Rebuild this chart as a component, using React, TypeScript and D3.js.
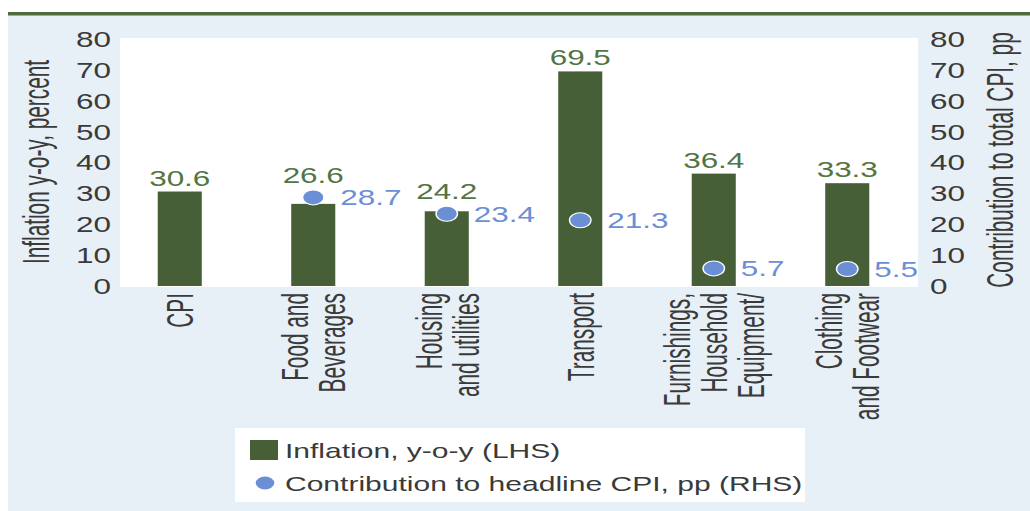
import * as d3 from "d3";

// chart values
const categories = [
  "CPI",
  "Food and\nBeverages",
  "Housing\nand utilities",
  "Transport",
  "Furnishings,\nHousehold\nEquipment/",
  "Clothing\nand Footwear",
];
const inflation = [30.6, 26.6, 24.2, 69.5, 36.4, 33.3];
const contribution: (number | null)[] = [null, 28.7, 23.4, 21.3, 5.7, 5.5];
const yTicks = [0, 10, 20, 30, 40, 50, 60, 70, 80];
const legendLabels = ["Inflation, y-o-y (LHS)", "Contribution to headline CPI, pp (RHS)"];

const W = 1030;
const H = 511;
// the reference is stretched horizontally, so draw in a narrower box and let the viewBox widen it
const S = 1.43;
const px = (x: number) => x / S;

const barColor = "#465f37";
const labelGreen = "#527543";
const dotColor = "#6b8fd4";
const textColor = "#3a3a3a";
const bgColor = "#e8f0f7";
const font = "'Liberation Sans', Arial, sans-serif";
const dotR = 7.5;

export default function App() {
  const x = d3
    .scaleBand<string>()
    .domain(categories)
    .range([px(113), px(914)])
    .paddingInner(0.67)
    .paddingOuter(0.335);

  const y = d3.scaleLinear().domain([0, 80]).range([286, 39]);

  const rotated = (cx: number, cy: number) =>
    `translate(${cx},${cy}) rotate(-90) scale(0.8,1)`;

  // bar label sits above the bar, or above the dot when the dot sits on the bar top
  const labelY = (i: number) => {
    const top = y(inflation[i]);
    const v = contribution[i];
    if (v != null && Math.abs(y(v) - top) < 20) return Math.min(top, y(v) - dotR) - 7;
    return top - 6;
  };

  return (
    <div style={{ position: "absolute", left: 0, top: 0 }}>
      <svg
        width={W}
        height={H}
        viewBox={`0 0 ${W / S} ${H}`}
        preserveAspectRatio="none"
        style={{ display: "block", fontFamily: font }}
      >
        <rect x={0} y={0} width={W / S} height={H} fill="#fff" />
        <rect x={px(8)} y={15} width={W / S - px(8)} height={H - 15} fill={bgColor} />
        <rect x={px(8)} y={12} width={W / S - px(8)} height={3.5} fill="#4e6b3e" />

        {/* plot area */}
        <rect x={px(120)} y={38} width={px(918) - px(120)} height={249} fill="#fff" />

        {/* left axis */}
        {yTicks.map((t) => (
          <text
            key={"l" + t}
            x={px(111)}
            y={y(t)}
            dy="0.36em"
            textAnchor="end"
            fontSize={22}
            fill={textColor}
          >
            {t}
          </text>
        ))}
        {/* right axis */}
        {yTicks.map((t) => (
          <text
            key={"r" + t}
            x={px(930)}
            y={y(t)}
            dy="0.36em"
            textAnchor="start"
            fontSize={22}
            fill={textColor}
          >
            {t}
          </text>
        ))}

        <text
          transform={rotated(px(36), 162)}
          dy="0.36em"
          textAnchor="middle"
          fontSize={26}
          fill={textColor}
        >
          Inflation y-o-y, percent
        </text>
        <text
          transform={rotated(px(1000), 160)}
          dy="0.36em"
          textAnchor="middle"
          fontSize={26}
          fill={textColor}
        >
          Contribution to total CPI, pp
        </text>

        {/* bars */}
        {categories.map((c, i) => (
          <rect
            key={"b" + c}
            x={x(c)!}
            y={y(inflation[i])}
            width={x.bandwidth()}
            height={y(0) - y(inflation[i])}
            fill={barColor}
          />
        ))}
        {categories.map((c, i) => (
          <text
            key={"bl" + c}
            x={x(c)! + x.bandwidth() / 2}
            y={labelY(i)}
            textAnchor="middle"
            fontSize={22}
            fill={labelGreen}
          >
            {inflation[i].toFixed(1)}
          </text>
        ))}

        {/* contribution dots */}
        {categories.map((c, i) => {
          const v = contribution[i];
          if (v == null) return null;
          const cx = x(c)! + x.bandwidth() / 2;
          return (
            <g key={"d" + c}>
              <circle cx={cx} cy={y(v)} r={dotR} fill={dotColor} stroke="#fff" strokeWidth={1} />
              <text
                x={cx + px(27)}
                y={y(v)}
                dy="0.36em"
                fontSize={22}
                fill={dotColor}
              >
                {v.toFixed(1)}
              </text>
            </g>
          );
        })}

        {/* category labels */}
        {categories.map((c) => {
          const lines = c.split("\n");
          const cx = x(c)! + x.bandwidth() / 2;
          const step = px(37);
          return (
            <g key={"c" + c}>
              {lines.map((ln, j) => (
                <text
                  key={j}
                  transform={rotated(cx + (j - (lines.length - 1) / 2) * step, 293)}
                  dy="0.36em"
                  textAnchor="end"
                  fontSize={26}
                  fill={textColor}
                >
                  {ln}
                </text>
              ))}
            </g>
          );
        })}

        {/* legend */}
        <rect x={px(235)} y={428} width={px(805) - px(235)} height={74} fill="#fff" />
        <rect x={px(250)} y={440} width={px(28)} height={20} fill={barColor} />
        <text x={px(285)} y={450} dy="0.36em" fontSize={21} fill={textColor}>
          {legendLabels[0]}
        </text>
        <circle cx={px(265)} cy={483} r={6.5} fill={dotColor} />
        <text x={px(285)} y={483} dy="0.36em" fontSize={21} fill={textColor}>
          {legendLabels[1]}
        </text>
      </svg>
    </div>
  );
}
